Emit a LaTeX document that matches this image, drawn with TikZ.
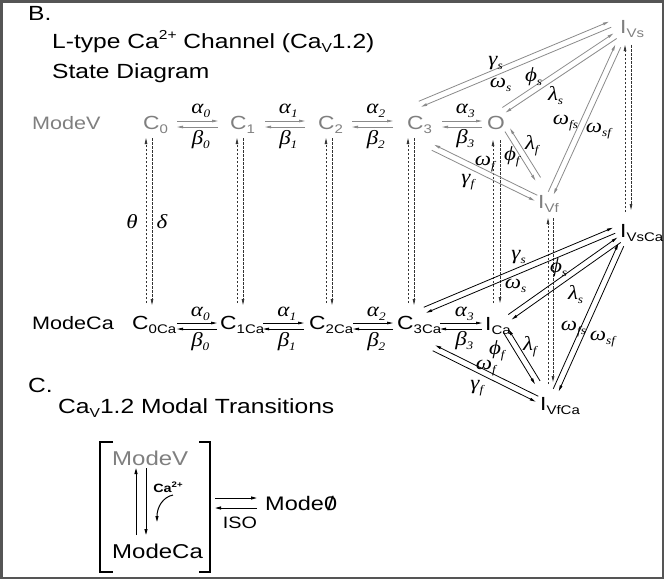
\documentclass[tikz,border=0pt]{standalone}
\usepackage{fontspec}
\setmainfont{Liberation Sans}[FakeStretch=1.2]
\newfontfamily\gk{Liberation Serif}[FakeStretch=1.15]
\usetikzlibrary{arrows.meta,calc}
\definecolor{gtxt}{HTML}{7F7F7F}
\definecolor{gline}{HTML}{8A8A8A}
\definecolor{dline}{HTML}{333333}
\definecolor{framec}{HTML}{555555}
\newcommand\fs[1]{\fontsize{#1}{#1}\selectfont}
\newcommand\sbx[2][12.5]{\raisebox{-0.22em}{\fs{#1}#2}}
\newcommand\spx[2][12.5]{\raisebox{0.42em}{\fs{#1}#2}}
\newcommand\gl[2]{#1\smash{\rlap{\raisebox{-0.2em}{\fs{11.5}#2}}}}
\newcommand\dpair[5][]{%
  \draw[#1] ($(#2)!3pt!#4:(#3)$) -- ($(#3)!3pt!#5:(#2)$);
  \draw[#1] ($(#3)!3pt!#4:(#2)$) -- ($(#2)!3pt!#5:(#3)$);
}
\tikzset{
  >={Triangle[length=6pt,width=2.6pt]},
  st/.style={anchor=base west, inner sep=0pt, font=\fs{19}},
  gst/.style={st, text=gtxt},
  ttl/.style={anchor=base west, inner sep=0pt, font=\fs{20.5}},
  mode/.style={anchor=base west, inner sep=0pt, font=\fs{18}},
  glab/.style={inner sep=0pt, font=\gk\itshape\fs{20}},
  garr/.style={->, draw=gline, line width=0.8pt},
  barr/.style={->, draw=black, line width=0.8pt},
  darr/.style={->, draw=dline, line width=0.8pt, dash pattern=on 2.5pt off 1.5pt},
  carr/.style={->, draw=black, line width=1pt, >={Triangle[length=6pt,width=3pt]}},
}
\begin{document}
\begin{tikzpicture}[x=1pt,y=-1pt]
\useasboundingbox (0,0) rectangle (664,579);
\draw[framec, line width=2.5pt] (1.25,1.25) rectangle (662.75,577.75);

% ---------- Section B titles
\node[ttl] (lblB) at (28,20) {B.};
\node[ttl] (t1) at (52,48) {L-type Ca\spx[13]{2+} Channel (Ca\sbx[13]{V}1.2)};
\node[ttl] (t2) at (52,78) {State Diagram};

% ---------- ModeV row
\node[mode, text=gtxt] (mv) at (32,129) {ModeV};
\node[gst] (C0) at (143,129) {C\sbx{0}};
\node[gst] (C1) at (230,129) {C\sbx{1}};
\node[gst] (C2) at (318,129) {C\sbx{2}};
\node[gst] (C3) at (407,129) {C\sbx{3}};
\node[gst] (O)  at (487,129) {O};
\node[gst] (IVs) at (620,33) {I\sbx{Vs}};
\node[gst] (IVf) at (538,208) {I\sbx{Vf}};

% ---------- ModeCa row
\node[mode] (mc) at (32,329) {ModeCa};
\node[st] (C0Ca) at (132,329) {C\sbx{0Ca}};
\node[st] (C1Ca) at (220,329) {C\sbx{1Ca}};
\node[st] (C2Ca) at (309,329) {C\sbx{2Ca}};
\node[st] (C3Ca) at (397,329) {C\sbx{3Ca}};
\node[st] (ICa)  at (485,330) {I\sbx{Ca}};
\node[st] (IVsCa) at (620,237) {I\sbx{VsCa}};
\node[st] (IVfCa) at (540,410) {I\sbx{VfCa}};

% ---------- horizontal pairs, ModeV
\draw[garr] ([shift={(34,-8)}]C0.base west) -- ([shift={(-12,-8)}]C1.base west) node[glab,midway,yshift=12.5pt]{\gl{α}{0}};
\draw[garr] ([shift={(-12,-2)}]C1.base west) -- ([shift={(34,-2)}]C0.base west) node[glab,midway,yshift=-13pt]{\gl{β}{0}};
\draw[garr] ([shift={(35,-8)}]C1.base west) -- ([shift={(-13,-8)}]C2.base west) node[glab,midway,yshift=12.5pt]{\gl{α}{1}};
\draw[garr] ([shift={(-13,-2)}]C2.base west) -- ([shift={(35,-2)}]C1.base west) node[glab,midway,yshift=-13pt]{\gl{β}{1}};
\draw[garr] ([shift={(34,-8)}]C2.base west) -- ([shift={(-14,-8)}]C3.base west) node[glab,midway,yshift=12.5pt]{\gl{α}{2}};
\draw[garr] ([shift={(-14,-2)}]C3.base west) -- ([shift={(34,-2)}]C2.base west) node[glab,midway,yshift=-13pt]{\gl{β}{2}};
\draw[garr] ([shift={(35,-8)}]C3.base west) -- ([shift={(-5,-8)}]O.base west) node[glab,midway,yshift=12.5pt]{\gl{α}{3}};
\draw[garr] ([shift={(-5,-2)}]O.base west) -- ([shift={(35,-2)}]C3.base west) node[glab,midway,yshift=-12pt]{\gl{β}{3}};

% ---------- horizontal pairs, ModeCa
\draw[barr] ([shift={(45,-6)}]C0Ca.base west) -- ([shift={(-3,-6)}]C1Ca.base west) node[glab,midway,yshift=11pt]{\gl{α}{0}};
\draw[barr] ([shift={(-3,0)}]C1Ca.base west) -- ([shift={(45,0)}]C0Ca.base west) node[glab,midway,yshift=-13pt]{\gl{β}{0}};
\draw[barr] ([shift={(43,-6)}]C1Ca.base west) -- ([shift={(-5,-6)}]C2Ca.base west) node[glab,midway,yshift=11pt]{\gl{α}{1}};
\draw[barr] ([shift={(-5,0)}]C2Ca.base west) -- ([shift={(43,0)}]C1Ca.base west) node[glab,midway,yshift=-13pt]{\gl{β}{1}};
\draw[barr] ([shift={(44,-6)}]C2Ca.base west) -- ([shift={(-4,-6)}]C3Ca.base west) node[glab,midway,yshift=11pt]{\gl{α}{2}};
\draw[barr] ([shift={(-4,0)}]C3Ca.base west) -- ([shift={(44,0)}]C2Ca.base west) node[glab,midway,yshift=-13pt]{\gl{β}{2}};
\draw[barr] ([shift={(43,-6)}]C3Ca.base west) -- ([shift={(-3,-7)}]ICa.base west) node[glab,midway,yshift=11pt]{\gl{α}{3}};
\draw[barr] ([shift={(-3,-1)}]ICa.base west) -- ([shift={(43,0)}]C3Ca.base west) node[glab,midway,yshift=-12pt]{\gl{β}{3}};

% ---------- vertical dashed pairs
\draw[darr] ([shift={(14,-26)}]C0Ca.base west) -- ([shift={(3,9)}]C0.base west);
\draw[darr] ([shift={(9,9)}]C0.base west) -- ([shift={(20,-24)}]C0Ca.base west);
\draw[darr] ([shift={(17,-26)}]C1Ca.base west) -- ([shift={(7,9)}]C1.base west);
\draw[darr] ([shift={(13,9)}]C1.base west) -- ([shift={(23,-24)}]C1Ca.base west);
\draw[darr] ([shift={(17,-26)}]C2Ca.base west) -- ([shift={(8,9)}]C2.base west);
\draw[darr] ([shift={(14,9)}]C2.base west) -- ([shift={(23,-24)}]C2Ca.base west);
\draw[darr] ([shift={(11,-26)}]C3Ca.base west) -- ([shift={(1,9)}]C3.base west);
\draw[darr] ([shift={(7,9)}]C3.base west) -- ([shift={(17,-24)}]C3Ca.base west);
\draw[darr] ([shift={(8,-27)}]ICa.base west) -- ([shift={(6,11)}]O.base west);
\draw[darr] ([shift={(13,11)}]O.base west) -- ([shift={(15,-27)}]ICa.base west);
\draw[darr] ([shift={(8,-26)}]IVfCa.base west) -- ([shift={(10,10)}]IVf.base west);
\draw[darr] ([shift={(15,10)}]IVf.base west) -- ([shift={(13,-28)}]IVfCa.base west);
\draw[darr] ([shift={(5,-25)}]IVsCa.base west) -- ([shift={(5,12)}]IVs.base west);
\draw[darr] ([shift={(11,12)}]IVs.base west) -- ([shift={(11,-27)}]IVsCa.base west);
\node[glab] (theta) at (132,222) {θ};
\node[glab] (delta) at (162,222) {δ};

% ---------- diagonal pairs, ModeV
\coordinate (c3s)  at ([shift={(13,-25)}]C3.base west);
\coordinate (ivs3) at ([shift={(-10,-8.5)}]IVs.base west);
\coordinate (os)   at ([shift={(17,-19)}]O.base west);
\coordinate (ivso) at ([shift={(-5,3)}]IVs.base west);
\coordinate (ivfs) at ([shift={(13,-15)}]IVf.base west);
\coordinate (ivsf) at ([shift={(-2,13)}]IVs.base west);
\coordinate (of)   at ([shift={(20.5,1)}]O.base west);
\coordinate (ivfo) at ([shift={(0,-29)}]IVf.base west);
\coordinate (c3f)  at ([shift={(26,18.5)}]C3.base west);
\coordinate (ivf3) at ([shift={(-2,-10)}]IVf.base west);
\dpair[garr]{c3s}{ivs3}{90}{-90}
\dpair[garr]{os}{ivso}{90}{-90}
\dpair[garr]{ivfs}{ivsf}{90}{-90}
\dpair[garr]{of}{ivfo}{-90}{90}
\dpair[garr]{c3f}{ivf3}{-90}{90}
\node[glab] (gs1) at (493,63) {\gl{γ}{s}};
\node[glab] (ws1) at (498,83) {\gl{ω}{s}};
\node[glab] (ps1) at (531,77) {\gl{ϕ}{s}};
\node[glab] (ls1) at (553,93) {\gl{λ}{s}};
\node[glab] (wfs1) at (561,120) {\gl{ω}{fs}};
\node[glab] (wsf1) at (594,128) {\gl{ω}{sf}};
\node[glab] (lf1) at (530,142) {\gl{λ}{f}};
\node[glab] (pf1) at (510,156) {\gl{ϕ}{f}};
\node[glab] (wf1) at (483,161) {\gl{ω}{f}};
\node[glab] (gf1) at (466,181) {\gl{γ}{f}};

% ---------- diagonal pairs, ModeCa
\coordinate (c3cs)  at ([shift={(28,-19)}]C3Ca.base west);
\coordinate (ivsc3) at ([shift={(-6,-6.5)}]IVsCa.base west);
\coordinate (icas)  at ([shift={(25,-13)}]ICa.base west);
\coordinate (ivsci) at ([shift={(-1,3)}]IVsCa.base west);
\coordinate (ivfcs) at ([shift={(16,-20)}]IVfCa.base west);
\coordinate (ivscf) at ([shift={(1,8)}]IVsCa.base west);
\coordinate (icaf)  at ([shift={(21,1)}]ICa.base west);
\coordinate (ivfci) at ([shift={(-2.5,-27.5)}]IVfCa.base west);
\coordinate (c3cf)  at ([shift={(37,19)}]C3Ca.base west);
\coordinate (ivfc3) at ([shift={(-3,-11)}]IVfCa.base west);
\dpair[barr]{c3cs}{ivsc3}{90}{-90}
\dpair[barr]{icas}{ivsci}{90}{-90}
\dpair[barr]{ivfcs}{ivscf}{90}{-90}
\dpair[barr]{icaf}{ivfci}{-90}{90}
\dpair[barr]{c3cf}{ivfc3}{-90}{90}
\node[glab] (gs2) at (516,257) {\gl{γ}{s}};
\node[glab] (ws2) at (513,284) {\gl{ω}{s}};
\node[glab] (ps2) at (556,268) {\gl{ϕ}{s}};
\node[glab] (ls2) at (573,292) {\gl{λ}{s}};
\node[glab] (wfs2) at (569,326) {\gl{ω}{fs}};
\node[glab] (wsf2) at (598,336) {\gl{ω}{sf}};
\node[glab] (lf2) at (528,343) {\gl{λ}{f}};
\node[glab] (pf2) at (495,350) {\gl{ϕ}{f}};
\node[glab] (wf2) at (484,365) {\gl{ω}{f}};
\node[glab] (gf2) at (475,387) {\gl{γ}{f}};

% ---------- Section C
\node[ttl] (lblC) at (28,392) {C.};
\node[ttl] (t3) at (58,413) {Ca\sbx[13]{V}1.2 Modal Transitions};
\draw[line width=2.4pt] (113,442) -- (100,442) -- (100,572) -- (113,572);
\draw[line width=2.4pt] (199,442) -- (210,442) -- (210,572) -- (199,572);
\node[anchor=base west, inner sep=0pt, font=\fs{20}, text=gtxt] (mv2) at (112,465) {ModeV};
\node[anchor=base west, inner sep=0pt, font=\fs{20}] (mc2) at (112,558) {ModeCa};
\node[anchor=base west, inner sep=0pt, font=\fs{19.6}] (m0) at (265,510) {Mode\ooalign{0\cr\hidewidth/\hidewidth}};
\node[inner sep=0pt, font=\fs{16.5}] (iso) at (240,523) {ISO};
\node[inner sep=0pt, font=\bfseries\fs{12}] (ca) at (168,487) {Ca\spx[8]{2+}};
\draw[carr] ([shift={(24,-23)}]mc2.base west) -- ([shift={(24,3)}]mv2.base west);
\draw[carr] ([shift={(34,3)}]mv2.base west) -- ([shift={(34,-23)}]mc2.base west);
\draw[carr] ([shift={(5,8)}]ca.center) .. controls ([shift={(-5,10)}]ca.center) and ([shift={(-11,20)}]ca.center) .. ([shift={(-11,35)}]ca.center);
\draw[carr] ([shift={(-50,-12)}]m0.base west) -- ([shift={(-8,-12)}]m0.base west);
\draw[carr] ([shift={(-8,-2)}]m0.base west) -- ([shift={(-50,-2)}]m0.base west);
\end{tikzpicture}
\end{document}
